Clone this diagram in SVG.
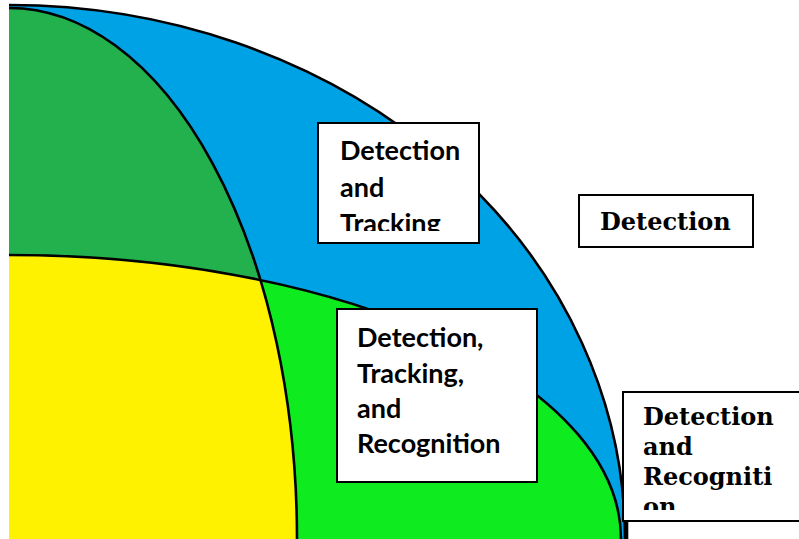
<svg xmlns="http://www.w3.org/2000/svg" width="799" height="539" viewBox="0 0 799 539">
  <style>
    .arc { fill: none; stroke: #000; stroke-width: 2.6; }
    .box rect { fill: #fff; stroke: #000; stroke-width: 2; }
    .sans { font-family: Lato, "Open Sans", "Liberation Sans", sans-serif; font-weight: bold; font-size: 27px; fill: #000; }
    .serif { font-family: "DejaVu Serif", "Liberation Serif", serif; font-weight: bold; font-size: 24px; fill: #000; }
  </style>
  <defs>
    <clipPath id="vclip">
      <path d="M 9 8 A 288 531 0 0 1 297 539 L 9 539 Z"/>
    </clipPath>
    <clipPath id="clip1"><rect x="318" y="123" width="161" height="108"/></clipPath>
    <clipPath id="clip4"><rect x="623" y="392" width="176" height="118"/></clipPath>
  </defs>
  <rect width="799" height="539" fill="#fff"/>
  <g id="regions">
    <path id="outer" d="M 9 5 A 616 534 0 0 1 625 539 L 9 539 Z" fill="#00A2E6"/>
    <path id="vertical" d="M 9 8 A 288 531 0 0 1 297 539 L 9 539 Z" fill="#22B14C"/>
    <path id="horizontal" d="M 9 255 A 612 284 0 0 1 621 539 L 9 539 Z" fill="#0EEC20"/>
    <path id="core" d="M 9 255 A 612 284 0 0 1 621 539 L 9 539 Z" fill="#FFF200" clip-path="url(#vclip)"/>
  </g>
  <g id="connectors">
    <path class="arc" d="M 9 5 A 616 534 0 0 1 625 539" stroke-width="3"/>
    <path class="arc" d="M 9 8 A 288 531 0 0 1 297 539"/>
    <path class="arc" d="M 9 255 A 612 284 0 0 1 621 539"/>
    <path class="arc" d="M 627 521 V 539" stroke-width="5"/>
  </g>
  <g id="box-detection-tracking" class="box">
    <rect x="318" y="123" width="161" height="120"/>
    <g clip-path="url(#clip1)">
      <text class="sans" x="340" y="160">Detection</text>
      <text class="sans" x="340" y="197">and</text>
      <text class="sans" x="340" y="233">Tracking</text>
    </g>
  </g>
  <g id="box-detection" class="box">
    <rect x="579" y="195" width="174" height="52"/>
    <text class="serif" x="600" y="230">Detection</text>
  </g>
  <g id="box-dtr" class="box">
    <rect x="337" y="309" width="200" height="173"/>
    <text class="sans" x="357" y="347">Detection,</text>
    <text class="sans" x="357" y="383">Tracking,</text>
    <text class="sans" x="357" y="418">and</text>
    <text class="sans" x="357" y="453">Recognition</text>
  </g>
  <g id="box-detection-recognition" class="box">
    <rect x="623" y="392" width="190" height="129"/>
    <g clip-path="url(#clip4)">
      <text class="serif" x="643" y="425">Detection</text>
      <text class="serif" x="643" y="455">and</text>
      <text class="serif" x="643" y="485">Recogniti</text>
      <text class="serif" x="643" y="515">on</text>
    </g>
  </g>
</svg>
